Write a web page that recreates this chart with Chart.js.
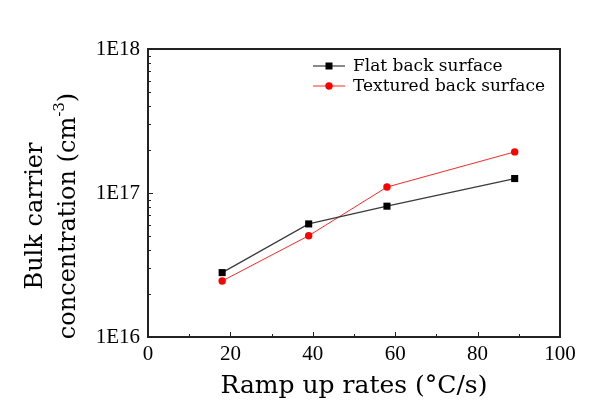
<!DOCTYPE html>
<html>
<head>
<meta charset="utf-8">
<script src="https://cdn.jsdelivr.net/npm/chart.js@4.4.1/dist/chart.umd.min.js"></script>
<style>
  html, body { margin: 0; padding: 0; background: #fff; }
  #wrap { width: 605px; height: 403px; }
</style>
</head>
<body>
<div id="wrap"><canvas id="chBulk"></canvas></div>
<script>
// data
var rates = [18, 39, 58, 89];
var flatBack = [2.8e16, 6.1e16, 8.1e16, 1.26e17];
var texturedBack = [2.45e16, 5.05e16, 1.1e17, 1.93e17];
var seriesNames = ['Flat back surface', 'Textured back surface'];
var xTicks = [0, 20, 40, 60, 80, 100];
var yMin = 1e16, yMax = 1e18;

function toPoints(xs, ys) {
  return xs.map(function (x, i) { return { x: x, y: ys[i] } })
}

// frame, inward ticks, y title and legend
var decorate = {
  id: 'decorate',
  afterDraw: function (chart) {
    var ctx = chart.ctx, a = chart.chartArea
    var xs = chart.scales.x, ys = chart.scales.y
    ctx.save()
    ctx.strokeStyle = '#222'
    ctx.lineWidth = 2
    ctx.strokeRect(a.left, a.top, a.right - a.left, a.bottom - a.top)

    ctx.lineWidth = 1
    ctx.beginPath()
    // x ticks: major every 20, minor in between
    for (var v = 0; v <= 100; v += 10) {
      var px = Math.round(xs.getPixelForValue(v)) + 0.5
      var len = (v % 20 === 0) ? 5 : 3
      ctx.moveTo(px, a.bottom)
      ctx.lineTo(px, a.bottom - len)
    }
    // y ticks: log decades and 2..9 minors
    for (var e = 16; e <= 18; e++) {
      for (var s = 1; s <= 9; s++) {
        var val = s * Math.pow(10, e)
        if (val > yMax * 1.0001) break
        var py = Math.round(ys.getPixelForValue(val)) + 0.5
        var l = s === 1 ? 5 : 3
        ctx.moveTo(a.left, py)
        ctx.lineTo(a.left + l, py)
      }
    }
    ctx.stroke()

    // y axis title (two lines, superscript)
    ctx.fillStyle = '#000'
    var big = '24px "DejaVu Serif"', small = '15px "DejaVu Serif"'
    var cy = 216
    ctx.save()
    ctx.translate(42, cy)
    ctx.rotate(-Math.PI / 2)
    ctx.font = big
    ctx.textAlign = 'center'
    ctx.textBaseline = 'alphabetic'
    ctx.fillText('Bulk carrier', 0, 0)
    ctx.restore()

    ctx.save()
    ctx.translate(75, cy)
    ctx.rotate(-Math.PI / 2)
    ctx.textAlign = 'left'
    ctx.textBaseline = 'alphabetic'
    var p1 = 'concentration (cm', p2 = '-3', p3 = ')'
    ctx.font = big
    var w1 = ctx.measureText(p1).width, w3 = ctx.measureText(p3).width
    ctx.font = small
    var w2 = ctx.measureText(p2).width
    var x0 = -(w1 + w2 + w3) / 2
    ctx.font = big
    ctx.fillText(p1, x0, 0)
    ctx.font = small
    ctx.fillText(p2, x0 + w1, -11)
    ctx.font = big
    ctx.fillText(p3, x0 + w1 + w2, 0)
    ctx.restore()

    // legend
    ctx.font = '17px "DejaVu Serif"'
    ctx.textAlign = 'left'
    ctx.textBaseline = 'middle'
    chart.data.datasets.forEach(function (ds, i) {
      var ly = 66 + i * 20
      ctx.strokeStyle = ds.borderColor
      ctx.lineWidth = ds.borderWidth
      ctx.beginPath()
      ctx.moveTo(313, ly)
      ctx.lineTo(345, ly)
      ctx.stroke()
      ctx.fillStyle = ds.pointBackgroundColor
      if (ds.pointStyle === 'rect') {
        ctx.fillRect(329 - 3.5, ly - 3.5, 7, 7)
      } else {
        ctx.beginPath()
        ctx.arc(329, ly, 3.7, 0, Math.PI * 2)
        ctx.fill()
      }
      ctx.fillStyle = '#000'
      ctx.fillText(ds.label, 353, ly + 1)
    })
    ctx.restore()
  }
}

var chBulk = document.getElementById('chBulk')
new Chart(chBulk, {
  type: 'line',
  data: {
    datasets: [{
      label: seriesNames[0],
      data: toPoints(rates, flatBack),
      borderColor: '#3a3a3a',
      borderWidth: 1.2,
      pointStyle: 'rect',
      pointRadius: 5,
      pointBorderWidth: 0,
      pointBackgroundColor: '#000',
      pointBorderColor: '#000'
    }, {
      label: seriesNames[1],
      data: toPoints(rates, texturedBack),
      borderColor: '#ff2a2a',
      borderWidth: 1,
      pointStyle: 'circle',
      pointRadius: 3.7,
      pointBorderWidth: 0,
      pointBackgroundColor: '#ff0000',
      pointBorderColor: '#ff0000'
    }]
  },
  options: {
    responsive: true,
    maintainAspectRatio: false,
    animation: false,
    layout: { padding: { left: 0, right: 45, top: 49, bottom: 0 } },
    plugins: { legend: { display: false }, tooltip: { enabled: false } },
    scales: {
      x: {
        type: 'linear',
        min: 0, max: 100,
        afterBuildTicks: function (s) { s.ticks = xTicks.map(function (v) { return { value: v } }) },
        afterFit: function (s) { s.height = 66 },
        grid: { display: false, drawTicks: false },
        border: { display: false },
        ticks: { color: '#000', padding: 5, font: { family: '"Liberation Serif"', size: 21 } },
        title: {
          display: true,
          text: 'Ramp up rates (\u00B0C/s)',
          color: '#000',
          padding: { top: 0, bottom: 2 },
          font: { family: '"DejaVu Serif"', size: 25 }
        }
      },
      y: {
        type: 'logarithmic',
        min: yMin, max: yMax,
        afterFit: function (s) { s.width = 148 },
        grid: { display: false, drawTicks: false },
        border: { display: false },
        ticks: {
          color: '#000',
          padding: 8,
          autoSkip: false,
          font: { family: '"Liberation Serif"', size: 21 },
          callback: function (value) {
            var l = Math.log10(value)
            return Math.abs(l - Math.round(l)) < 1e-6 ? '1E' + Math.round(l) : ''
          }
        }
      }
    }
  },
  plugins: [decorate]
})
</script>
</body>
</html>
